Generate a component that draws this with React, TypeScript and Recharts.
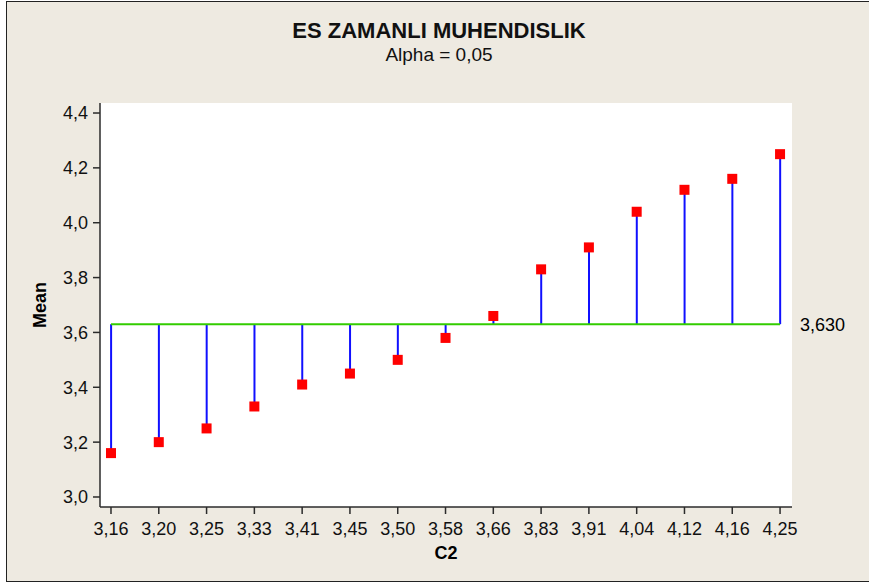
import {
	ComposedChart,
	Bar,
	Scatter,
	XAxis,
	YAxis,
	CartesianGrid,
	ReferenceLine,
} from "recharts";

// group labels on the x axis (they are the group means)
const CATEGORIES = [
	"3,16", "3,20", "3,25", "3,33", "3,41", "3,45", "3,50", "3,58",
	"3,66", "3,83", "3,91", "4,04", "4,12", "4,16", "4,25",
];
const MEANS = [
	3.16, 3.2, 3.25, 3.33, 3.41, 3.45, 3.5, 3.58,
	3.66, 3.83, 3.91, 4.04, 4.12, 4.16, 4.25,
];
const CENTER = 3.63;
const Y_TICKS = [3.0, 3.2, 3.4, 3.6, 3.8, 4.0, 4.2, 4.4];

const data = MEANS.map((m, i) => ({ idx: i, mean: m, stem: [CENTER, m] }));
const xTicks = CATEGORIES.map((_, i) => i);

const FONT = "'Liberation Sans', Arial, sans-serif";
const AXIS = "#2b2b2b";
const comma = (v: number, d: number) => v.toFixed(d).replace(".", ",");

const Square = (props: any) => {
	const { cx, cy } = props;
	return <rect x={cx - 5} y={cy - 5} width={10} height={10} fill="#ff0000" />;
};

export default function App() {
	return (
		<div
			style={{
				position: "absolute",
				left: 0,
				top: 0,
				width: 869,
				height: 585,
				background: "#fff",
				fontFamily: FONT,
				overflow: "hidden",
			}}
		>
			<div
				style={{
					position: "absolute",
					left: 6,
					top: 1,
					width: 880,
					height: 579,
					border: "1.5px solid #222",
					background: "#eeeae1",
				}}
			/>
			<div style={{ position: "absolute", left: 0, top: 0 }}>
				<ComposedChart
					width={869}
					height={585}
					data={data}
					margin={{ top: 103, right: 77, bottom: 48, left: 40 }}
				>
					<CartesianGrid
						horizontal={false}
						vertical={false}
						fill="#ffffff"
						fillOpacity={1}
					/>
					<XAxis
						xAxisId="top"
						orientation="top"
						type="number"
						dataKey="idx"
						domain={[-0.23, 14.25]}
						height={0}
						tick={false}
						tickLine={false}
						stroke={AXIS}
						strokeWidth={1.5}
					/>
					<XAxis
						type="number"
						dataKey="idx"
						domain={[-0.23, 14.25]}
						ticks={xTicks}
						interval={0}
						allowDecimals={false}
						tickFormatter={(i: number) => CATEGORIES[i] ?? ""}
						height={30}
						tickSize={7}
						tickMargin={8}
						stroke={AXIS}
						strokeWidth={1.5}
						tick={{ fill: "#111", fontSize: 18, fontFamily: FONT }}
						label={{
							value: "C2",
							position: "bottom",
							offset: 9,
							style: { fill: "#000", fontSize: 18, fontWeight: "bold", fontFamily: FONT },
						}}
					/>
					<YAxis
						domain={[2.9635, 4.4365]}
						ticks={Y_TICKS}
						width={60}
						tickSize={7}
						tickMargin={5}
						stroke={AXIS}
						strokeWidth={1.5}
						tickFormatter={(v: number) => comma(v, 1)}
						tick={{ fill: "#111", fontSize: 18, fontFamily: FONT }}
						label={{
							value: "Mean",
							angle: -90,
							position: "insideLeft",
							offset: 0,
							style: {
								fill: "#000",
								fontSize: 18,
								fontWeight: "bold",
								fontFamily: FONT,
								textAnchor: "middle",
							},
						}}
					/>
					<YAxis
						yAxisId="r"
						orientation="right"
						domain={[2.9635, 4.4365]}
						width={0}
						tick={false}
						tickLine={false}
						stroke={AXIS}
						strokeWidth={1.5}
					/>
					<Bar
						dataKey="stem"
						barSize={2}
						fill="#1010ff"
						isAnimationActive={false}
					/>
					<ReferenceLine
						segment={[
							{ x: 0, y: CENTER },
							{ x: MEANS.length - 1, y: CENTER },
						]}
						stroke="#33cc00"
						strokeWidth={2}
						label={{
							value: comma(CENTER, 3),
							position: "right",
							offset: 20,
							style: { fill: "#000", fontSize: 18, fontFamily: FONT },
						}}
					/>
					<Scatter
						dataKey="mean"
						shape={Square}
						isAnimationActive={false}
					/>
				</ComposedChart>
			</div>
			<div
				style={{
					position: "absolute",
					left: 0,
					width: 878,
					top: 18,
					textAlign: "center",
					fontSize: 22,
					fontWeight: "bold",
					color: "#111",
				}}
			>
				ES ZAMANLI MUHENDISLIK
			</div>
			<div
				style={{
					position: "absolute",
					left: 0,
					width: 878,
					top: 44,
					textAlign: "center",
					fontSize: 19,
					color: "#111",
				}}
			>
				Alpha = 0,05
			</div>
		</div>
	);
}
